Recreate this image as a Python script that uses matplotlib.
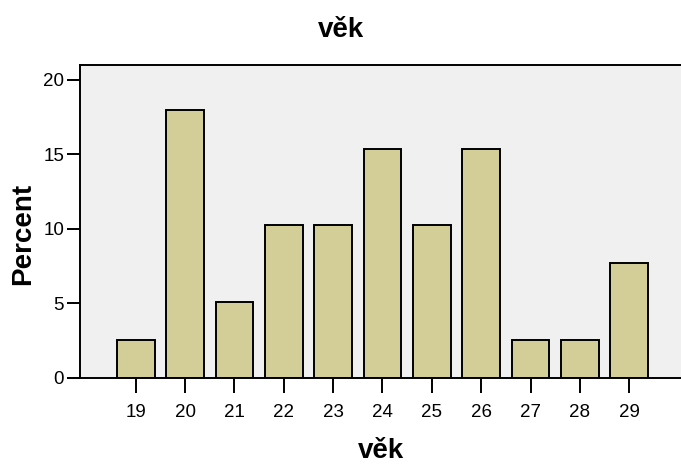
import matplotlib

matplotlib.use("Agg")
import matplotlib.pyplot as plt

plt.rcParams["font.family"] = ["Liberation Sans", "DejaVu Sans"]

AGES = [19, 20, 21, 22, 23, 24, 25, 26, 27, 28, 29]
COUNTS = [1, 7, 2, 4, 4, 6, 4, 6, 1, 1, 3]
PERCENT = [100.0 * c / sum(COUNTS) for c in COUNTS]
YTICKS = [0, 5, 10, 15, 20]

BAR_COLOR = "#d3ce98"
BG_COLOR = "#f0f0f0"
W, H = 681, 465


def main():
    fig = plt.figure(figsize=(W / 100, H / 100), dpi=100)
    ax = fig.add_axes([80 / W, 1 - 378 / H, 1 - 80 / W, (378 - 65) / H])
    ax.set_facecolor(BG_COLOR)
    ax.bar(AGES, PERCENT, width=0.76, color=BAR_COLOR, edgecolor="black",
           linewidth=1.4, zorder=2)

    ax.set_xlim(17.87, 30.05)
    ax.set_ylim(0, 21)
    ax.set_xticks(AGES)
    ax.set_xticklabels([str(a) for a in AGES], fontsize=13.5)
    ax.set_yticks(YTICKS)
    ax.set_yticklabels([str(t) for t in YTICKS], fontsize=13.5)
    ax.tick_params(axis="x", length=10.8, width=1.4, pad=8)
    ax.tick_params(axis="y", length=9.4, width=1.4, pad=2)
    for s in ("left", "top", "bottom"):
        ax.spines[s].set_linewidth(1.4)
    ax.spines["right"].set_visible(False)

    # x label sits right at the bottom edge, as in the reference
    fig.text(381 / W, 1 - 458 / H, "věk", ha="center", va="baseline",
             fontsize=20, fontweight="bold")
    fig.text(23 / W, 1 - 234 / H, "Percent", ha="center", va="center",
             rotation=90, fontsize=20, fontweight="bold")
    fig.text(341 / W, 1 - 37 / H, "věk", ha="center", va="baseline",
             fontsize=20, fontweight="bold")
    fig.savefig("out.png", dpi=100)


if __name__ == "__main__":
    main()
